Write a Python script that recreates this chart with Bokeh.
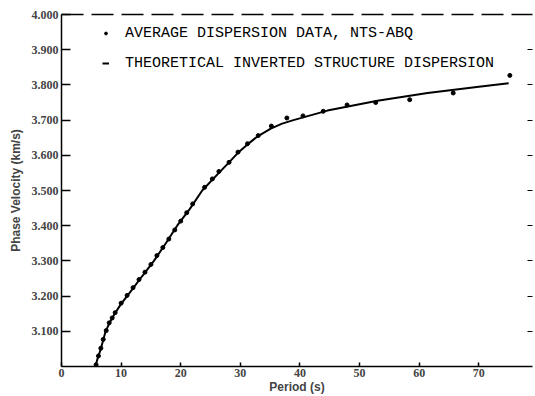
from bokeh.plotting import figure
from bokeh.models import Range1d, FixedTicker, LinearAxis, Legend, LegendItem, CustomJSTickFormatter
from bokeh.embed import file_html
from bokeh.resources import INLINE

# Theoretical inverted structure dispersion curve
curve_period = [5.7, 6.0, 6.5, 7.0, 7.4, 8.0, 9.0, 10.0, 11.0, 12.0, 13.0, 14.0,
                15.5, 17.5, 19.4, 21.5, 23.6, 26.4, 28.1, 29.6, 31.2, 32.9, 35.1,
                37.0, 38.9, 44.6, 53.0, 61.4, 70.0, 75.0]
curve_velocity = [3.000, 3.020, 3.045, 3.075, 3.100, 3.122, 3.152, 3.178, 3.200,
                  3.222, 3.245, 3.267, 3.300, 3.350, 3.400, 3.447, 3.500, 3.550,
                  3.580, 3.607, 3.631, 3.654, 3.676, 3.690, 3.700, 3.727, 3.755,
                  3.777, 3.795, 3.805]

# Average dispersion data, NTS-ABQ
data_period = [5.8, 6.2, 6.6, 7.0, 7.5, 8.0, 8.5, 9.0, 10.0, 11.0, 12.0, 13.0, 14.0,
               15.0, 16.0, 17.0, 18.0, 19.0, 20.0, 21.0, 22.0, 24.0, 25.3, 26.4,
               28.1, 29.6, 31.2, 33.0, 35.2, 37.8, 40.5, 43.9, 47.9, 52.7, 58.4,
               65.7, 75.2]
data_velocity = [3.005, 3.030, 3.052, 3.077, 3.102, 3.124, 3.138, 3.153, 3.180,
                 3.202, 3.224, 3.247, 3.268, 3.290, 3.315, 3.338, 3.362, 3.388,
                 3.413, 3.437, 3.462, 3.509, 3.533, 3.554, 3.580, 3.609, 3.633,
                 3.656, 3.683, 3.706, 3.712, 3.725, 3.743, 3.750, 3.758, 3.777,
                 3.827]

x_ticks = [0, 10, 20, 30, 40, 50, 60, 70]
y_ticks = [3.1, 3.2, 3.3, 3.4, 3.5, 3.6, 3.7, 3.8, 3.9, 4.0]
y_tick_labels = ["3.100", "3.200", "3.300", "3.400", "3.500", "3.600",
                 "3.700", "3.800", "3.900", "4.000"]

legend_labels = ["AVERAGE DISPERSION DATA, NTS-ABQ",
                 "THEORETICAL INVERTED STRUCTURE DISPERSION"]

p = figure(width=535, height=396, output_backend="svg", toolbar_location=None,
           x_range=Range1d(0, 79), y_range=Range1d(3.0, 4.0),
           min_border_left=61, min_border_right=3, min_border_top=14,
           min_border_bottom=30)
p.outline_line_color = None
p.grid.visible = False
p.background_fill_color = "white"
p.border_fill_color = "white"

tick_font = "Liberation Sans Narrow"

# bottom axis
xa = p.xaxis[0]
xa.ticker = FixedTicker(ticks=x_ticks)
xa.axis_label = "Period (s)"
xa.axis_label_text_font = "Liberation Sans"
xa.axis_label_text_font_style = "bold"
xa.axis_label_text_font_size = "12px"
xa.axis_label_standoff = 0
xa.major_label_text_font = tick_font
xa.major_label_text_font_style = "bold"
xa.major_label_text_font_size = "12px"
xa.major_label_standoff = 2
xa.major_tick_in = 4
xa.major_tick_out = 0
xa.minor_tick_line_color = None
xa.axis_line_width = 1.5
xa.major_tick_line_width = 1.5

# left axis
ya = p.yaxis[0]
ya.ticker = FixedTicker(ticks=y_ticks)
ya.major_label_overrides = {t: s for t, s in zip(y_ticks, y_tick_labels)}
ya.axis_label = "Phase Velocity (km/s)"
ya.axis_label_text_font = "Liberation Sans"
ya.axis_label_text_font_style = "bold"
ya.axis_label_text_font_size = "12px"
ya.axis_label_standoff = 6
ya.major_label_text_font = tick_font
ya.major_label_text_font_style = "bold"
ya.major_label_text_font_size = "12px"
ya.major_label_standoff = 3
ya.major_tick_in = 9
ya.major_tick_out = 0
ya.minor_tick_line_color = None
ya.axis_line_width = 1.5
ya.major_tick_line_width = 1.5

blank = CustomJSTickFormatter(code="return ''")

# top (broken) frame line
top = LinearAxis(ticker=FixedTicker(ticks=[]), formatter=blank,
                 axis_line_dash="22 8", axis_line_width=1.5,
                 major_tick_line_color=None, minor_tick_line_color=None,
                 major_label_standoff=0)
p.add_layout(top, "above")

# right side: tick marks only
right = LinearAxis(ticker=FixedTicker(ticks=y_ticks[:-1]), axis_line_color=None,
                   formatter=blank, major_label_standoff=0,
                   major_tick_in=5, major_tick_out=0, major_tick_line_width=1.2,
                   minor_tick_line_color=None)
p.add_layout(right, "right")

line_r = p.line(curve_period, curve_velocity, line_color="black", line_width=2)
dots_r = p.scatter(data_period, data_velocity, size=4, color="black")

legend = Legend(items=[LegendItem(label=legend_labels[0], renderers=[dots_r]),
                       LegendItem(label=legend_labels[1], renderers=[line_r])],
                location=(41, 293), border_line_color=None,
                background_fill_alpha=0, padding=0, margin=0, spacing=10,
                glyph_width=7, glyph_height=20, label_height=20,
                label_standoff=16,
                label_text_font="Liberation Mono", label_text_font_size="15px",
                label_text_color="black")
p.add_layout(legend)

open("out.html", "w").write(file_html(p, INLINE))
